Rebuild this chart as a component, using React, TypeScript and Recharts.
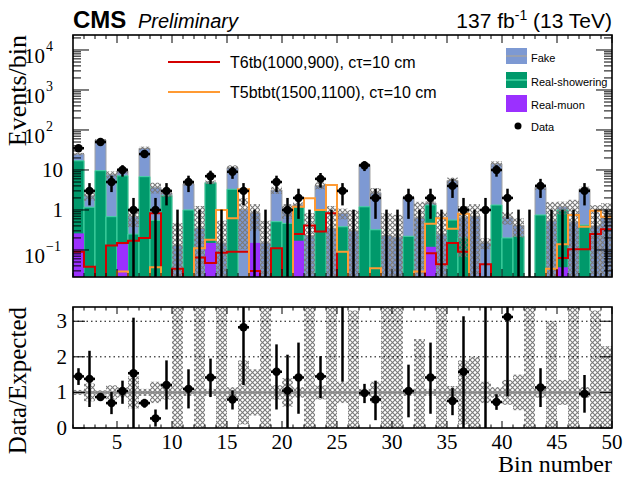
import React from "react";
import { ComposedChart, Bar, Line, Scatter, XAxis, YAxis, ErrorBar, ReferenceLine } from "recharts";

// ---- data ----
const BINS = [1, 2, 3, 4, 5, 6, 7, 8, 9, 10, 11, 12, 13, 14, 15, 16, 17, 18, 19, 20, 21, 22, 23, 24, 25,
  26, 27, 28, 29, 30, 31, 32, 33, 34, 35, 36, 37, 38, 39, 40, 41, 42, 43, 44, 45, 46, 47, 48, 49];

const REAL_MUON = [0.26, 0, 0, 0, 0.14, 0, 0, 0, 0, 0, 0, 0, 0.15, 0, 0, 0, 0.15, 0, 0, 0, 0.17, 0, 0, 0, 0,
  0, 0, 0, 0, 0, 0, 0, 0.12, 0, 0, 0, 0, 0, 0, 0, 0, 0, 0, 0, 0.037, 0, 0, 0, 0];
const REAL_SHOWERING = [16.7, 1.17, 9.6, 0.68, 7.0, 0.25, 6.8, 0.55, 2.3, 0, 1.0, 0, 4.6, 0, 3.3, 0, 0, 0, 0.51, 0.46, 1.03, 0, 1.0, 0, 0.38,
  0, 1.2, 0.32, 0, 0, 0.22, 0, 1.21, 0, 0.56, 0.2, 0, 0, 1.33, 0.2, 0.22, 0, 0.75, 0, 0.96, 0, 0.42, 0, 0];
const FAKE = [8.0, 1.1, 46, 7.0, 2.5, 0.43, 28, 3.15, 0.35, 0.13, 3.5, 0.35, 0.2, 0.15, 8.1, 1.03, 0.7, 0.15, 2.65, 0.54, 0.15, 0.23, 3.1, 0.35, 0.45,
  0.3, 12.4, 2.38, 0.23, 0.21, 1.85, 0.64, 0.17, 0.25, 4.9, 0.46, 0.7, 0.15, 12.9, 0.46, 0.19, 0.005, 2.95, 0.53, 0.2, 0.5, 2.9, 0.4, 0.64];
// relative uncertainty of the expected background
const BKG_REL_UNC = [0.07, 0.25, 0.06, 0.2, 0.15, 0.45, 0.1, 0.3, 0.2, 2.6, 0.1, 2.6, 0.1, 2.6, 0.15, 0.9, 0.65, 2.6, 0.2, 0.4, 0.15, 2.6, 0.2, 2.6, 0.3,
  2.3, 0.1, 0.3, 2.6, 2.6, 0.1, 1.5, 0.1, 2.6, 0.18, 0.9, 1.0, 0.3, 0.15, 0.35, 0.5, 2.6, 0.15, 2.0, 0.35, 2.6, 0.15, 2.3, 1.3];

const DATA = [35, 3, 50, 5, 10, 1, 25, 1, 3, 0, 5, 0, 7, 0, 9, 3, 0, 0, 5, 1, 2, 0, 6, 0, 3,
  0, 13, 2, 0, 0, 2, 0, 2, 0, 4, 1, 0, 1, 10, 2, 0, 0, 4, 0, 0, 0, 3, 0, 0];
const DATA_ERR = [5.9, 1.7, 7.1, 2.2, 3.2, 1, 5, 1, 1.7, 1, 2.2, 1, 2.6, 1, 3, 1.7, 1, 1, 2.2, 1, 1.4, 1, 2.4, 1, 1.7,
  1, 3.6, 1.4, 1, 1, 1.4, 1, 1.4, 1, 2, 1, 1, 1, 3.2, 1.4, 1, 1, 2, 1, 1, 1, 1.7, 1, 1];

const T6TB = [0.09, 0.038, 0, 0.13, 0.15, 0.17, 0.2, 0.83, 0, 0.034, 0, 0.065, 0.047, 0.085, 0.09, 0.09, 0.03, 0, 0.11, 0, 0.25, 0.41, 0.29, 0.83, 0,
  0, 0, 0, 0, 0, 0, 0, 0.083, 0.044, 0.15, 0.09, 0, 0.044, 0, 0, 0, 0, 0, 0, 0.063, 0.104, 0.104, 0.25, 0.33];
const T5BTBT = [0, 0, 0, 0, 0.029, 0, 0, 0.037, 0, 0, 0, 0.11, 0.18, 1.0, 0.62, 3.3, 0, 0, 0, 0, 1.2, 1.96, 1.0, 4.2, 0.09,
  0, 0, 0.035, 0, 0, 0, 0.029, 0.45, 0.62, 0.34, 0.8, 0, 0, 0, 0, 0, 0, 0, 0.034, 0.14, 0.75, 0.38, 0.95, 0.68];

const RATIO_BINS = [1, 2, 3, 4, 5, 6, 7, 8, 9, 11, 13, 15, 16, 19, 20, 21, 23, 25, 27, 28, 31, 33, 35, 36, 38, 39, 40, 43, 47];
const RATIO = [1.45, 1.38, 0.87, 0.7, 1.04, 1.54, 0.7, 0.27, 1.21, 1.1, 1.42, 0.8, 2.83, 1.58, 1.05, 1.42, 1.45, 3.6, 0.98, 0.8, 1.04, 1.42, 0.76, 1.58, 7.0, 0.73, 3.12, 1.14, 0.96];
const RATIO_LOW = [1.21, 0.59, 0.8, 0.39, 0.68, 0, 0.57, 0.04, 0.52, 0.55, 0.87, 0.52, 1.21, 0.52, 0, 0.4, 0.84, 1.3, 0.7, 0.22, 0.3, 0.4, 0.36, 0, 0, 0.51, 0.89, 0.59, 0.43];
const RATIO_HIGH = [1.68, 2.17, 0.94, 1.01, 1.33, 3.1, 0.82, 0.52, 1.9, 1.65, 1.95, 1.06, 4.5, 2.35, 2.06, 2.4, 2.02, 5.5, 1.24, 1.33, 1.78, 2.4, 1.12, 3.14, 15, 0.95, 5.5, 1.68, 1.49];

const X_TICKS = [1, 2, 3, 4, 5, 6, 7, 8, 9, 10, 11, 12, 13, 14, 15, 16, 17, 18, 19, 20, 21, 22, 23, 24, 25,
  26, 27, 28, 29, 30, 31, 32, 33, 34, 35, 36, 37, 38, 39, 40, 41, 42, 43, 44, 45, 46, 47, 48, 49, 50];
const LOG_TICKS = [0.03, 0.04, 0.05, 0.06, 0.07, 0.08, 0.09, 0.1, 0.2, 0.3, 0.4, 0.5, 0.6, 0.7, 0.8, 0.9,
  1, 2, 3, 4, 5, 6, 7, 8, 9, 10, 20, 30, 40, 50, 60, 70, 80, 90, 100, 200, 300, 400, 500, 600, 700, 800, 900,
  1000, 2000, 3000, 4000, 5000, 6000, 7000, 8000, 9000, 10000, 20000];
const RATIO_TICKS = [0, 1, 2, 3];

const YMIN = 0.0211;
const YMAX = 23700;
const RMAX = 3.4;
const FLOOR = 0.001; // empty signal bins drop below the frame

const PLOT_W = 539;
const TOP_Y = 35;
const TOP_H = 242;
const RATIO_Y = 17; // inside the lower chart
const RATIO_H = 121;

const SERIF = '"Liberation Serif", "DejaVu Serif", serif';
const SANS = '"Liberation Sans", Arial, sans-serif';

const C_FAKE = "#7d99d3";
const C_SHOWER = "#00996b";
const C_MUON = "#9b30ff";
const C_RED = "#d40000";
const C_ORANGE = "#ff9a33";

// ---- tables for recharts ----
const rows = BINS.map((b, i) => {
  const muon = REAL_MUON[i];
  const shw = muon + REAL_SHOWERING[i];
  const total = shw + FAKE[i];
  const rel = BKG_REL_UNC[i];
  const hi = total * (1 + rel);
  return {
    bin: b,
    total: total > 0 ? total : null,
    green: REAL_SHOWERING[i] > 0 ? shw : null,
    purple: muon > 0 ? muon : null,
    band: hi > YMIN ? [Math.max(total * (1 - rel), YMIN), hi] : null,
    rband: [Math.max(0, 1 - rel), Math.min(1 + rel, RMAX)],
  };
});

const edges = X_TICKS.map((x, i) => ({
  x,
  red: T6TB[Math.min(i, BINS.length - 1)] || FLOOR,
  orange: T5BTBT[Math.min(i, BINS.length - 1)] || FLOOR,
}));

const points = BINS.map((b, i) => {
  const n = DATA[i];
  const y = n > 0 ? n : YMIN;
  return { x: b + 0.5, y, empty: n === 0, err: [Math.min(DATA_ERR[i], y - YMIN), DATA_ERR[i]] };
});

// points beyond the frame keep only the visible part of their error bar
const ratioPoints = RATIO_BINS.map((b, i) => {
  const r = RATIO[i];
  const y = Math.min(r, RMAX);
  const hi = Math.min(RATIO_HIGH[i], RMAX);
  return { x: b + 0.5, y, empty: r > RMAX, err: [y - Math.min(RATIO_LOW[i], y), hi - y] };
});

// ---- ticks ----
function LogYTick(props: any) {
  const { x, y, payload } = props;
  const lg = Math.log10(payload.value);
  const e = Math.round(lg);
  const major = Math.abs(lg - e) < 1e-6;
  const len = major ? 16 : 8;
  let label: React.ReactNode = null;
  if (major) {
    if (e === 0 || e === 1) {
      label = (
        <text x={x - 10} y={y + 7.5} textAnchor="end" fontFamily={SERIF} fontSize={21}>
          {e === 0 ? "1" : "10"}
        </text>
      );
    } else {
      label = (
        <g fontFamily={SERIF}>
          <text x={x - 28} y={y + 13} textAnchor="end" fontSize={21}>10</text>
          <text x={x - 27} y={y + 1} textAnchor="start" fontSize={14}>{e < 0 ? "\u2212" + -e : e}</text>
        </g>
      );
    }
  }
  return (
    <g>
      <line x1={x} x2={x + len} y1={y} y2={y} stroke="#000" strokeWidth={1} />
      <line x1={x + PLOT_W} x2={x + PLOT_W - len} y1={y} y2={y} stroke="#000" strokeWidth={1} />
      {label}
    </g>
  );
}

function RatioYTick(props: any) {
  const { x, y, payload } = props;
  return (
    <g>
      <line x1={x} x2={x + 12} y1={y} y2={y} stroke="#000" strokeWidth={1} />
      <line x1={x + PLOT_W} x2={x + PLOT_W - 12} y1={y} y2={y} stroke="#000" strokeWidth={1} />
      <text x={x - 6} y={y + 7} textAnchor="end" fontFamily={SERIF} fontSize={21}>{payload.value}</text>
    </g>
  );
}

// x ticks: inward ticks on the bottom and top edge of a pad
function makeXTick(plotTop: number, plotH: number, major: number, minor: number, labels: boolean) {
  const bottom = plotTop + plotH;
  return (props: any) => {
    const { x, payload } = props;
    const v = payload.value;
    const isMajor = v % 5 === 0;
    const len = isMajor ? major : minor;
    return (
      <g>
        <line x1={x} x2={x} y1={bottom} y2={bottom - len} stroke="#000" strokeWidth={1} />
        <line x1={x} x2={x} y1={plotTop} y2={plotTop + len} stroke="#000" strokeWidth={1} />
        {labels && isMajor && (
          <text x={x} y={bottom + 21} textAnchor="middle" fontFamily={SERIF} fontSize={21}>{v}</text>
        )}
      </g>
    );
  };
}

const DataMarker = (p: any) => {
  if (p.payload && p.payload.empty) return <g />;
  return (
    <g>
      <line x1={p.cx - 5.5} x2={p.cx + 5.5} y1={p.cy} y2={p.cy} stroke="#000" strokeWidth={2.5} />
      <circle cx={p.cx} cy={p.cy} r={4.2} fill="#000" />
    </g>
  );
};

export default function App() {
  return (
    <div style={{ position: "absolute", left: 0, top: 0, width: 624, height: 479, background: "#fff" }}>
      <svg width={0} height={0} style={{ position: "absolute" }}>
        <defs>
          <pattern id="hatch" patternUnits="userSpaceOnUse" width={5} height={5}>
            <path d="M0,0 L5,5 M5,0 L0,5" stroke="#7a7a7a" strokeWidth={1.1} />
          </pattern>
        </defs>
      </svg>

      {/* upper pad: events per bin */}
      <div style={{ position: "absolute", left: 0, top: 0 }}>
        <ComposedChart
          width={624}
          height={290}
          data={rows}
          margin={{ top: TOP_Y, right: 12, bottom: 12, left: 72 }}
          barGap="-100%"
          barCategoryGap={0}
        >
          <XAxis xAxisId="cat" dataKey="bin" type="category" hide />
          <XAxis
            xAxisId="num"
            dataKey="x"
            type="number"
            domain={[1, 50]}
            allowDataOverflow
            ticks={X_TICKS}
            interval={0}
            height={1}
            tickSize={0}
            tickMargin={0}
            axisLine={false}
            tickLine={false}
            tick={makeXTick(TOP_Y, TOP_H, 8, 4, false)}
          />
          <YAxis
            type="number"
            scale="log"
            domain={[YMIN, YMAX]}
            allowDataOverflow
            ticks={LOG_TICKS}
            interval={0}
            width={1}
            tickSize={0}
            tickMargin={0}
            axisLine={false}
            tickLine={false}
            tick={LogYTick}
          />
          <Bar xAxisId="cat" dataKey="total" fill={C_FAKE} stroke="#a3a3a3" strokeWidth={1} isAnimationActive={false} />
          <Bar xAxisId="cat" dataKey="green" fill={C_SHOWER} stroke="#47d6a5" strokeWidth={1} isAnimationActive={false} />
          <Bar xAxisId="cat" dataKey="purple" fill={C_MUON} isAnimationActive={false} />
          <Bar xAxisId="cat" dataKey="band" fill="url(#hatch)" isAnimationActive={false} />
          <Line xAxisId="num" data={edges} dataKey="red" type="stepAfter" stroke={C_RED} strokeWidth={2} dot={false} isAnimationActive={false} />
          <Line xAxisId="num" data={edges} dataKey="orange" type="stepAfter" stroke={C_ORANGE} strokeWidth={2} dot={false} isAnimationActive={false} />
          <Scatter xAxisId="num" data={points} dataKey="y" shape={DataMarker} isAnimationActive={false}>
            <ErrorBar dataKey="err" direction="y" width={0} stroke="#000" strokeWidth={2.5} isAnimationActive={false} />
          </Scatter>
        </ComposedChart>
      </div>

      {/* lower pad: data / expected */}
      <div style={{ position: "absolute", left: 0, top: 290 }}>
        <ComposedChart
          width={624}
          height={189}
          data={rows}
          margin={{ top: RATIO_Y, right: 12, bottom: 50, left: 72 }}
          barGap="-100%"
          barCategoryGap={0}
        >
          <XAxis xAxisId="cat" dataKey="bin" type="category" hide />
          <XAxis
            xAxisId="num"
            dataKey="x"
            type="number"
            domain={[1, 50]}
            allowDataOverflow
            ticks={X_TICKS}
            interval={0}
            height={1}
            tickSize={0}
            tickMargin={0}
            axisLine={false}
            tickLine={false}
            tick={makeXTick(RATIO_Y, RATIO_H, 7, 3.5, true)}
          />
          <YAxis
            type="number"
            domain={[0, RMAX]}
            allowDataOverflow
            ticks={RATIO_TICKS}
            interval={0}
            width={1}
            tickSize={0}
            tickMargin={0}
            axisLine={false}
            tickLine={false}
            tick={RatioYTick}
          />
          <Bar xAxisId="cat" dataKey="rband" fill="url(#hatch)" isAnimationActive={false} />
          <ReferenceLine xAxisId="num" y={3} stroke="#000" strokeWidth={1} strokeDasharray="1.5 3" />
          <ReferenceLine xAxisId="num" y={2} stroke="#000" strokeWidth={1} strokeDasharray="1.5 3" />
          <ReferenceLine xAxisId="num" y={1} stroke="#8c8c8c" strokeWidth={2.5} />
          <Scatter xAxisId="num" data={ratioPoints} dataKey="y" shape={DataMarker} isAnimationActive={false}>
            <ErrorBar dataKey="err" direction="y" width={0} stroke="#000" strokeWidth={2.5} isAnimationActive={false} />
          </Scatter>
        </ComposedChart>
      </div>

      {/* frames, titles, legends */}
      <svg width={624} height={479} style={{ position: "absolute", left: 0, top: 0, pointerEvents: "none" }}>
        <rect x={73} y={35} width={PLOT_W} height={TOP_H} fill="none" stroke="#000" strokeWidth={1.6} />
        <rect x={73} y={307} width={PLOT_W} height={RATIO_H} fill="none" stroke="#000" strokeWidth={1.6} />

        <text x={73} y={28} fontFamily={SANS} fontWeight="bold" fontSize={24}>CMS</text>
        <text x={138} y={28} fontFamily={SANS} fontStyle="italic" fontSize={20}>Preliminary</text>
        <text x={612} y={28} textAnchor="end" fontFamily={SANS} fontSize={21}>
          137 fb<tspan dy={-8} fontSize={14}>-1</tspan><tspan dy={8}> (13 TeV)</tspan>
        </text>

        <text transform="translate(26,35) rotate(-90)" textAnchor="end" fontFamily={SERIF} fontSize={26}>Events/bin</text>
        <text transform="translate(26,307) rotate(-90)" textAnchor="end" fontFamily={SERIF} fontSize={25}>Data/Expected</text>
        <text x={612} y={472} textAnchor="end" fontFamily={SERIF} fontSize={24}>Bin number</text>

        <line x1={168} x2={220} y1={62} y2={62} stroke={C_RED} strokeWidth={2} />
        <text x={230} y={68} fontFamily={SANS} fontSize={16}>T6tb(1000,900), c&#964;=10 cm</text>
        <line x1={168} x2={220} y1={92} y2={92} stroke={C_ORANGE} strokeWidth={2} />
        <text x={230} y={98} fontFamily={SANS} fontSize={16}>T5btbt(1500,1100), c&#964;=10 cm</text>

        <rect x={506} y={48} width={21} height={16} fill={C_FAKE} />
        <line x1={506} x2={527} y1={56} y2={56} stroke="#a3a3a3" strokeWidth={1.5} />
        <text x={531} y={62} fontFamily={SANS} fontSize={11}>Fake</text>
        <rect x={506} y={72} width={21} height={16} fill={C_SHOWER} />
        <line x1={506} x2={527} y1={80} y2={80} stroke="#47d6a5" strokeWidth={1.5} />
        <text x={531} y={86} fontFamily={SANS} fontSize={11}>Real-showering</text>
        <rect x={506} y={95} width={21} height={17} fill={C_MUON} />
        <text x={531} y={109} fontFamily={SANS} fontSize={11}>Real-muon</text>
        <circle cx={518} cy={126} r={3.5} fill="#000" />
        <text x={531} y={131} fontFamily={SANS} fontSize={11}>Data</text>
      </svg>
    </div>
  );
}
